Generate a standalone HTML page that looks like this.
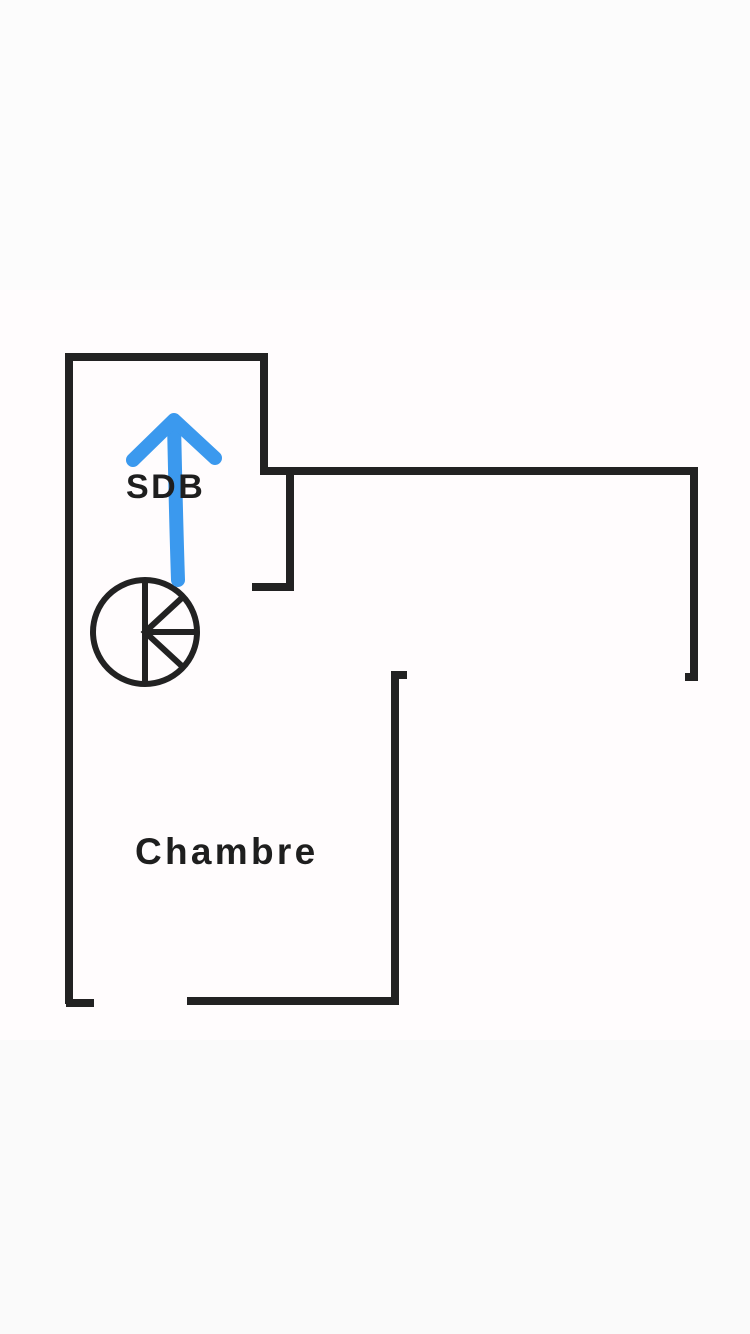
<!DOCTYPE html>
<html><head><meta charset="utf-8"><style>
html,body{margin:0;padding:0;}
body{width:750px;height:1334px;overflow:hidden;background:#fafafa;}
svg{display:block;}
</style></head><body>
<svg width="750" height="1334" viewBox="0 0 750 1334" xmlns="http://www.w3.org/2000/svg">
<rect x="0" y="0" width="750" height="290" fill="#fcfcfc"/>
<rect x="0" y="290" width="750" height="750" fill="#fffcfd"/>
<rect x="0" y="1040" width="750" height="294" fill="#fafafa"/>
<g fill="none" stroke="#222" stroke-width="8" stroke-linecap="butt" stroke-linejoin="miter">
<polyline points="69,1004 69,357 264,357 264,471 694,471 694,677 685,677"/>
<polyline points="290,475 290,587 252,587"/>
<polyline points="407,675 395,675 395,1001 187,1001"/>
<polyline points="66,1003 94,1003"/>
</g>
<g fill="none" stroke="#222" stroke-width="6">
<circle cx="145" cy="632" r="52"/>
<line x1="145" y1="580" x2="145" y2="684"/>
<polyline points="184,596 145,632 184,668"/>
<line x1="145" y1="632" x2="197" y2="632"/>
</g>
<g fill="none" stroke="#3b99ee" stroke-width="14" stroke-linecap="round" stroke-linejoin="round">
<path d="M178,580 Q176,520 174,422"/>
<polyline points="133,460 174,420 215,458"/>
</g>
<text x="126" y="498" font-family="Liberation Sans, sans-serif" font-weight="bold" font-size="34" letter-spacing="2.5" fill="#1e1e1e">SDB</text>
<text x="135" y="864" font-family="Liberation Sans, sans-serif" font-weight="bold" font-size="37" letter-spacing="3.3" fill="#1e1e1e">Chambre</text>
</svg>
</body></html>
